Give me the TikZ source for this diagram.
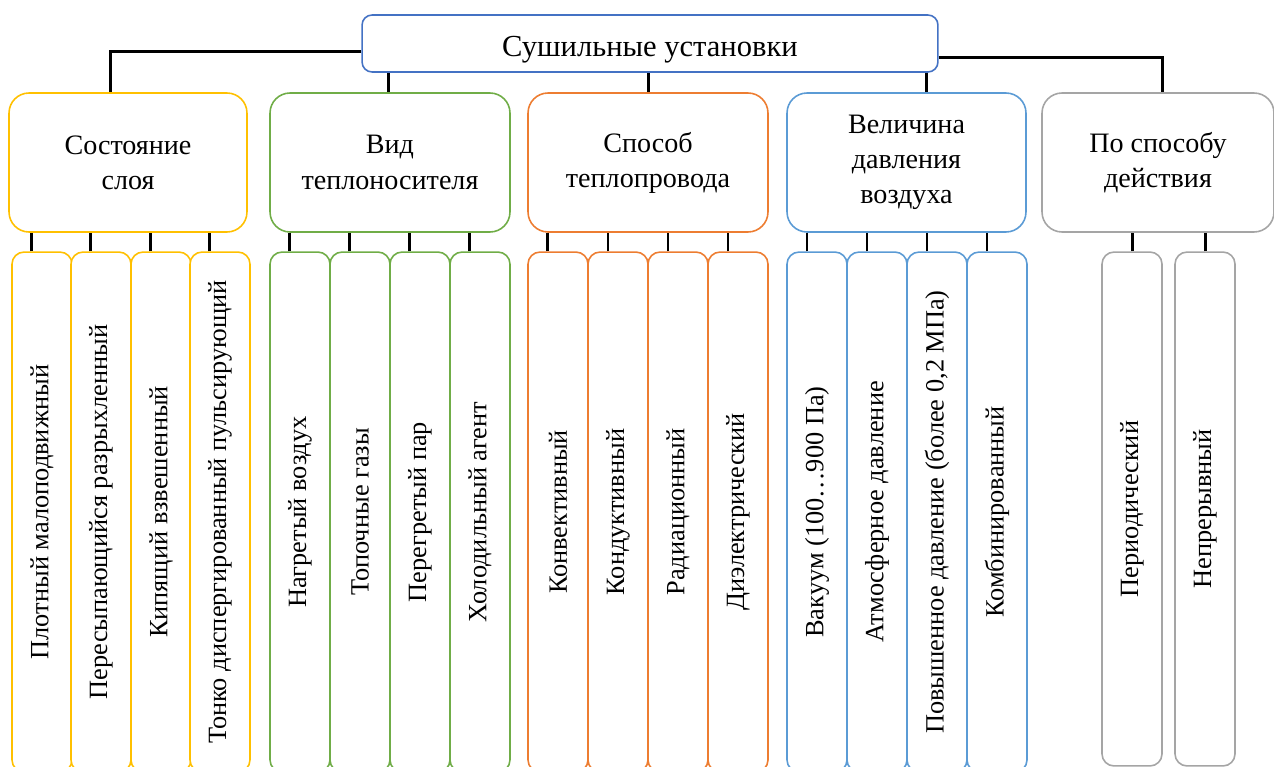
\documentclass[tikz,border=0pt]{standalone}
\usepackage{fontspec}
\setmainfont{Liberation Serif}

\definecolor{layerY}{HTML}{FFC000}
\definecolor{carrierG}{HTML}{70AD47}
\definecolor{heatO}{HTML}{ED7D31}
\definecolor{pressB}{HTML}{5B9BD5}
\definecolor{modeGr}{HTML}{A5A5A5}
\definecolor{rootB}{HTML}{4472C4}

\tikzset{
  rootbox/.style={draw=rootB, line width=0.9pt, rounded corners=0.2cm, fill=white,
    minimum width=11.52cm, minimum height=1.14cm, inner sep=0pt,
    text height=19pt, text depth=4pt,
    font=\fontsize{17.4}{21}\selectfont},
  groupbox/.style={draw, line width=0.9pt, rounded corners=0.4cm, fill=white,
    align=center, minimum height=2.78cm, inner sep=0pt,
    font=\fontsize{16}{20}\selectfont},
  leaf/.style={draw, line width=0.9pt, rounded corners=0.24cm, fill=white,
    rotate=90, minimum width=10.4cm, minimum height=1.2cm, inner sep=0pt,
    font=\fontsize{15}{18}\selectfont},
  conn/.style={line width=1.7pt, black},
}

\begin{document}
\begin{tikzpicture}[x=0.02cm, y=-0.02cm]
  \useasboundingbox (0,0) rectangle (1274,767);

  % root and the five groups
  \node[rootbox] (root) at (650,43.5) {Сушильные установки};

  \node[groupbox, draw=layerY, minimum width=4.76cm] (layer) at (128,162.5) {Состояние\\слоя};
  \node[groupbox, draw=carrierG, minimum width=4.8cm] (carrier) at (390,162.5) {Вид\\теплоносителя};
  \node[groupbox, draw=heatO, minimum width=4.8cm] (heat) at (648,162.5) {Способ\\теплопровода};
  \node[groupbox, draw=pressB, minimum width=4.78cm] (press) at (906.5,162.5) {Величина\\давления\\воздуха};
  \node[groupbox, draw=modeGr, minimum width=4.64cm] (mode) at (1158,162.5) {По способу\\действия};

  % leaves, text runs bottom to top
  \node[leaf, draw=layerY] (layer1) at (42,512) {Плотный малоподвижный};
  \node[leaf, draw=layerY] (layer2) at (101,512) {Пересыпающийся разрыхленный};
  \node[leaf, draw=layerY] (layer3) at (161,512) {Кипящий взвешенный};
  \node[leaf, draw=layerY] (layer4) at (220,512) {Тонко диспергированный пульсирующий};

  \node[leaf, draw=carrierG] (carrier1) at (300,512) {Нагретый воздух};
  \node[leaf, draw=carrierG] (carrier2) at (360,512) {Топочные газы};
  \node[leaf, draw=carrierG] (carrier3) at (420,512) {Перегретый пар};
  \node[leaf, draw=carrierG] (carrier4) at (480,512) {Холодильный агент};

  \node[leaf, draw=heatO] (heat1) at (558,512) {Конвективный};
  \node[leaf, draw=heatO] (heat2) at (618,512) {Кондуктивный};
  \node[leaf, draw=heatO] (heat3) at (678,512) {Радиационный};
  \node[leaf, draw=heatO] (heat4) at (738,512) {Диэлектрический};

  \node[leaf, draw=pressB] (press1) at (817,512) {Вакуум (100…900 Па)};
  \node[leaf, draw=pressB] (press2) at (877,512) {Атмосферное давление};
  \node[leaf, draw=pressB] (press3) at (937,512) {Повышенное давление (более 0,2 МПа)};
  \node[leaf, draw=pressB] (press4) at (997,512) {Комбинированный};

  \node[leaf, draw=modeGr, minimum width=10.28cm] (mode1) at (1132,509) {Периодический};
  \node[leaf, draw=modeGr, minimum width=10.28cm] (mode2) at (1205,509) {Непрерывный};

  % root to groups
  \draw[conn] ([yshift=-4.8pt]root.west) -| ([xshift=-9.7pt]layer.north);
  \draw[conn] ([xshift=-1.1pt]carrier.north) -- ([xshift=-1.1pt]carrier.north |- root.south);
  \draw[conn] (heat.north) -- (heat.north |- root.south);
  \draw[conn] ([xshift=11.1pt]press.north) -- ([xshift=11.1pt]press.north |- root.south);
  \draw[conn] ([yshift=-7.7pt]root.east) -| ([xshift=2.8pt]mode.north);

  % groups to leaves (east anchor is the top of a turned leaf)
  \draw[conn] ([xshift=-5.7pt]layer1.east) -- ([xshift=-5.7pt]layer1.east |- layer.south);
  \draw[conn] ([xshift=-5.7pt]layer2.east) -- ([xshift=-5.7pt]layer2.east |- layer.south);
  \draw[conn] ([xshift=-5.7pt]layer3.east) -- ([xshift=-5.7pt]layer3.east |- layer.south);
  \draw[conn] ([xshift=-5.7pt]layer4.east) -- ([xshift=-5.7pt]layer4.east |- layer.south);

  \draw[conn] ([xshift=-5.7pt]carrier1.east) -- ([xshift=-5.7pt]carrier1.east |- carrier.south);
  \draw[conn] ([xshift=-5.7pt]carrier2.east) -- ([xshift=-5.7pt]carrier2.east |- carrier.south);
  \draw[conn] ([xshift=-5.7pt]carrier3.east) -- ([xshift=-5.7pt]carrier3.east |- carrier.south);
  \draw[conn] ([xshift=-5.7pt]carrier4.east) -- ([xshift=-5.7pt]carrier4.east |- carrier.south);

  \draw[conn] ([xshift=-5.7pt]heat1.east) -- ([xshift=-5.7pt]heat1.east |- heat.south);
  \draw[conn] ([xshift=-5.7pt]heat2.east) -- ([xshift=-5.7pt]heat2.east |- heat.south);
  \draw[conn] ([xshift=-5.7pt]heat3.east) -- ([xshift=-5.7pt]heat3.east |- heat.south);
  \draw[conn] ([xshift=-5.7pt]heat4.east) -- ([xshift=-5.7pt]heat4.east |- heat.south);

  \draw[conn] ([xshift=-5.7pt]press1.east) -- ([xshift=-5.7pt]press1.east |- press.south);
  \draw[conn] ([xshift=-5.7pt]press2.east) -- ([xshift=-5.7pt]press2.east |- press.south);
  \draw[conn] ([xshift=-5.7pt]press3.east) -- ([xshift=-5.7pt]press3.east |- press.south);
  \draw[conn] ([xshift=-5.7pt]press4.east) -- ([xshift=-5.7pt]press4.east |- press.south);

  \draw[conn] (mode1.east) -- (mode1.east |- mode.south);
  \draw[conn] (mode2.east) -- (mode2.east |- mode.south);
\end{tikzpicture}
\end{document}
